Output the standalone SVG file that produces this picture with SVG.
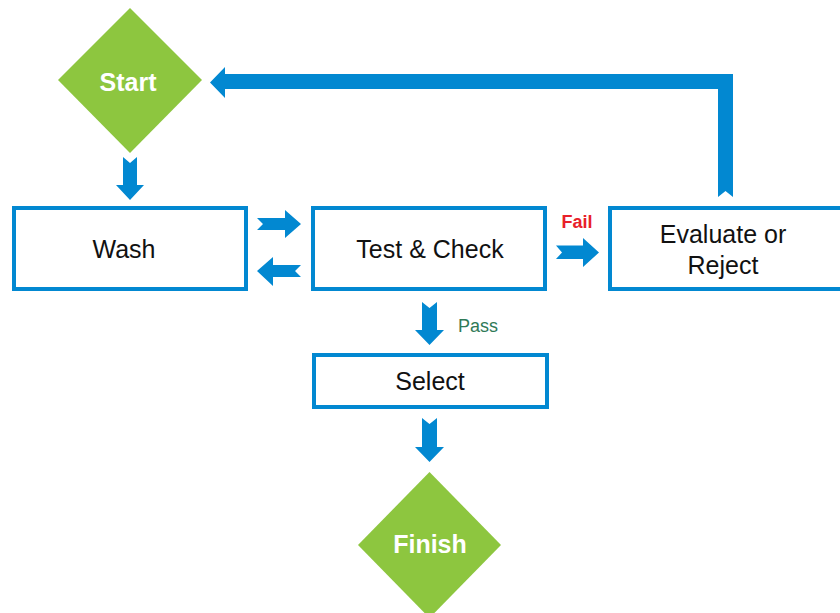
<svg xmlns="http://www.w3.org/2000/svg" width="840" height="613" viewBox="0 0 840 613">
<style>
.box{fill:#fff;stroke:#0288d1;stroke-width:4}
.dia{fill:#8dc63f}
.arr{fill:#0288d1}
.lbl{font-family:"Liberation Sans",Arial,sans-serif;font-size:25px;fill:#111;text-anchor:middle}
.dlbl{font-family:"Liberation Sans",Arial,sans-serif;font-size:25px;font-weight:bold;fill:#fff;text-anchor:middle}
</style>
<rect width="840" height="613" fill="#fff"/>
<g id="connectors">
<path class="arr" d="M718,197 L725.5,191 L733,197 L733,74 L225,74 L225,67 L210,82.5 L225,98 L225,89 L718,89 Z"/>
<path id="start-wash" class="arr" d="M123,157 L130,163 L137,157 L137,185 L144,185 L130,200 L116,185 L123,185 Z"/>
<path id="wash-test" class="arr" d="M257,218 L285,218 L285,210 L301,224 L285,238 L285,230 L257,230 L263,224 Z"/>
<path id="test-wash" class="arr" d="M301,265 L273,265 L273,257 L257,271 L273,286 L273,277 L301,277 L295,271 Z"/>
<path id="test-eval" class="arr" d="M556,245.5 L583,245.5 L583,238 L599,252.5 L583,267 L583,259 L556,259 L562,252.5 Z"/>
<path id="test-select" class="arr" d="M422,302 L429.5,308 L437,302 L437,330 L444,330 L429.5,345 L415,330 L422,330 Z"/>
<path id="select-finish" class="arr" d="M422,418 L429.5,424 L437,418 L437,447 L444,447 L429.5,462 L415,447 L422,447 Z"/>
<text x="577" y="228" font-family="Liberation Sans,Arial,sans-serif" font-size="18" font-weight="bold" fill="#e8202a" text-anchor="middle">Fail</text>
<text x="458" y="332" font-family="Liberation Sans,Arial,sans-serif" font-size="18" fill="#2f7a57">Pass</text>
</g>
<g id="start">
<polygon class="dia" points="130,8 202,80 130,153 58,80"/>
<text class="dlbl" x="128" y="91">Start</text>
</g>
<g id="wash">
<rect class="box" x="14" y="208" width="232" height="81"/>
<text class="lbl" x="124" y="258">Wash</text>
</g>
<g id="test">
<rect class="box" x="313" y="208" width="232" height="81"/>
<text class="lbl" x="430" y="258">Test &amp; Check</text>
</g>
<g id="evaluate">
<rect class="box" x="610" y="208" width="240" height="81"/>
<text class="lbl" x="723" y="243">Evaluate or</text>
<text class="lbl" x="723" y="274">Reject</text>
</g>
<g id="select">
<rect class="box" x="314" y="355" width="233" height="52"/>
<text class="lbl" x="430" y="390">Select</text>
</g>
<g id="finish">
<polygon class="dia" points="429.5,472 501,545 429.5,618 358,545"/>
<text class="dlbl" x="430" y="553">Finish</text>
</g>
</svg>
